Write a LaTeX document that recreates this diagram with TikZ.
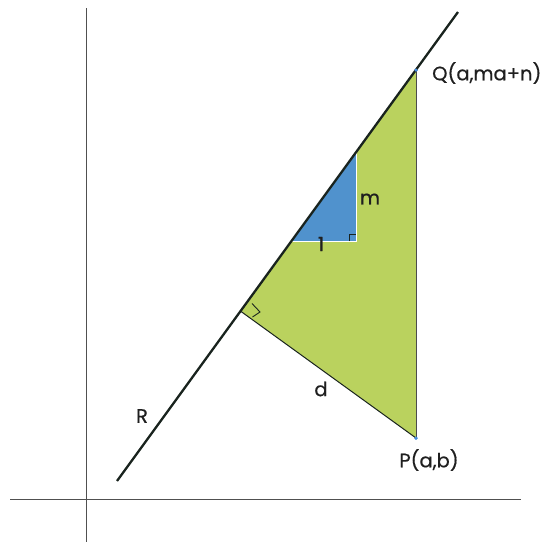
\documentclass[tikz,border=0pt]{standalone}
\usepackage{fontspec}
\setmainfont{Poppins}
\newfontfamily\lblfont{Poppins}[FakeBold=0.6]
\definecolor{tgreen}{RGB}{186,210,94}
\definecolor{tblue}{RGB}{80,146,205}
\definecolor{axisgray}{RGB}{80,80,80}
\definecolor{linedark}{RGB}{25,35,30}
\definecolor{dotblue}{RGB}{70,140,220}
\begin{document}
\begin{tikzpicture}[x=1pt,y=-1pt,
  axis/.style={draw=axisgray,line width=1pt},
  rline/.style={draw=linedark,line width=2.3pt},
  lbl/.style={font=\lblfont\fontsize{19.5}{19.5}\selectfont,text=black!88,inner sep=0pt},
  ptdot/.style={circle,fill=dotblue,inner sep=0pt,minimum size=3.5pt}]
\useasboundingbox (0,0) rectangle (547,542);
% coordinates
\coordinate (A) at (117,481);
\coordinate (B) at (458,12);
\node[ptdot] (Q) at (416,70) {};
\node[ptdot] (P) at (416,438) {};
\coordinate (F) at (240.5,311.1);
\coordinate (b1) at (291.5,241);
\coordinate (b2) at (356,241);
\coordinate (b3) at (356,152.5);
% axes
\coordinate (ya) at (86,8);
\coordinate (yb) at (86,542);
\coordinate (xa) at (10,499);
\coordinate (xb) at (521,499);
\draw[axis] (ya) -- (yb);
\draw[axis] (xa) -- (xb);
% green triangle
\fill[tgreen] (Q.center) -- (P.center) -- (F) -- cycle;
\draw[draw=black!70,line width=0.8pt] (Q.center) -- (P.center);
\draw[draw=linedark,line width=1pt] (P.center) -- (F);
% blue triangle
\fill[tblue] (b1) -- (b2) -- (b3) -- cycle;
\draw[draw=white,line width=0.8pt] (b1) -- (b2) -- (b3);
% right angle marks
\draw[draw=linedark,line width=0.9pt] (349,241) -- (349,234) -- (356,234);
\draw[draw=linedark,line width=0.9pt] (252,303.5) -- (260,312) -- (252.5,317);
% main line R
\draw[rline] (A) -- (B);
% dots on top
\node[ptdot] at (Q) {};
\node[ptdot] at (P) {};
% labels
\node[lbl,anchor=west] (Ql) at (432,73) {Q(a,ma+n)};
\node[lbl] (Pl) at (429,460) {P(a,b)};
\node[lbl] (ml) at (370,199) {m};
\node[lbl] (one) at (321,244) {1};
\node[lbl] (dl) at (321,389) {d};
\node[lbl] (Rl) at (142,416) {R};
\end{tikzpicture}
\end{document}
